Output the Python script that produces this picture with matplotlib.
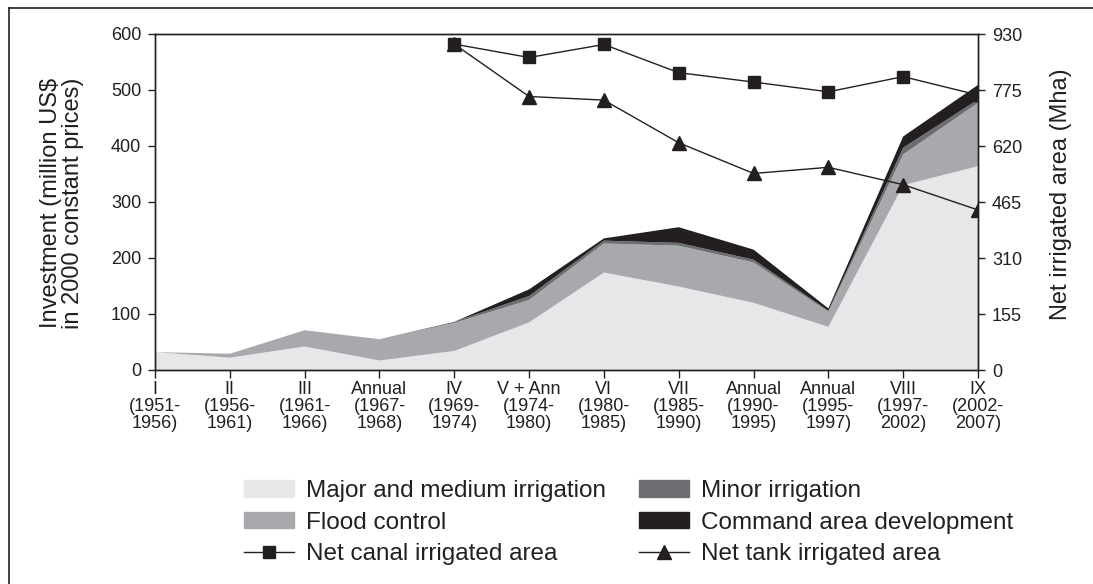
import matplotlib
matplotlib.use("Agg")
import matplotlib.pyplot as plt
from matplotlib.patches import Patch
from matplotlib.lines import Line2D
import numpy as np

# five-year plans and their periods
plans = ["I", "II", "III", "Annual", "IV", "V + Ann", "VI", "VII",
         "Annual", "Annual", "VIII", "IX"]
period_start = [1951, 1956, 1961, 1967, 1969, 1974, 1980, 1985, 1990, 1995, 1997, 2002]
period_end = [1956, 1961, 1966, 1968, 1974, 1980, 1985, 1990, 1995, 1997, 2002, 2007]

# investment (million US$, 2000 constant prices), stacked
major_medium = [32, 22, 42, 17, 34, 85, 174, 149, 120, 77, 330, 364]
flood_control = [0, 7, 29, 38, 50, 40, 52, 73, 72, 27, 55, 113]
minor = [0, 0, 0, 0, 2, 7, 5, 5, 5, 2, 12, 6]
command_area = [0, 0, 0, 0, 0, 12, 4, 28, 18, 4, 20, 26]

# net irrigated area (Mha), from plan IV onwards
canal_area = [np.nan] * 4 + [902, 865, 901, 823, 797, 770, 812, 761]
tank_area = [np.nan] * 4 + [902, 757, 747, 629, 544, 561, 513, 443]

dark = "#231f20"
colors = ["#e6e7e8", "#a7a9ac", "#6d6e71", dark]

plt.rcParams["font.family"] = ["Liberation Sans", "DejaVu Sans"]
plt.rcParams["text.color"] = dark
plt.rcParams["axes.edgecolor"] = dark
plt.rcParams["xtick.color"] = dark
plt.rcParams["ytick.color"] = dark

fig = plt.figure(figsize=(10.93, 5.84), dpi=100)
ax = fig.add_axes([155 / 1093, 1 - 370 / 584, 823 / 1093, 336 / 584])

x = np.arange(len(plans))
ax.stackplot(x, major_medium, flood_control, minor, command_area,
             colors=colors, linewidth=0)
ax.set_xlim(0, len(plans) - 1)
ax.set_ylim(0, 600)
ax.set_yticks(range(0, 601, 100))
labels = [f"{p}\n({s}-\n{e})" for p, s, e in zip(plans, period_start, period_end)]
ax.set_xticks(x)
ax.set_xticklabels(labels, linespacing=1.0)
ax.tick_params(axis="x", length=6, width=1, pad=2, labelsize=13)
ax.tick_params(axis="y", length=5, width=1, pad=5, labelsize=13)
for sp in ax.spines.values():
    sp.set_linewidth(1)

ax2 = ax.twinx()
ax2.plot(x, tank_area, color=dark, lw=1, marker="^", markersize=10)
ax2.plot(x, canal_area, color=dark, lw=1, marker="s", markersize=9)
ax2.set_ylim(0, 930)
ax2.set_yticks(range(0, 931, 155))
ax2.tick_params(axis="y", length=5, width=1, pad=5, labelsize=13)
for sp in ax2.spines.values():
    sp.set_linewidth(1)

fig.text(62 / 1093, 1 - 203 / 584, "Investment (million US$\nin 2000 constant prices)",
         rotation=90, ha="center", va="center", fontsize=17, linespacing=1.05)
fig.text(1061 / 1093, 1 - 194 / 584, "Net irrigated area (Mha)",
         rotation=90, ha="center", va="center", fontsize=17)

# legend in two columns
left_handles = [Patch(color=colors[0]), Patch(color=colors[1]),
                Line2D([], [], color=dark, lw=1, marker="s", markersize=9)]
left_labels = ["Major and medium irrigation", "Flood control", "Net canal irrigated area"]
right_handles = [Patch(color=colors[2]), Patch(color=colors[3]),
                 Line2D([], [], color=dark, lw=1, marker="^", markersize=10)]
right_labels = ["Minor irrigation", "Command area development", "Net tank irrigated area"]
opts = dict(loc="upper left", frameon=False, fontsize=17.5, borderpad=0,
            handlelength=2.05, handleheight=0.66, handletextpad=0.5,
            labelspacing=0.40, borderaxespad=0)
fig.legend(left_handles, left_labels, bbox_to_anchor=(244 / 1093, 1 - 480 / 584), **opts)
fig.legend(right_handles, right_labels, bbox_to_anchor=(639 / 1093, 1 - 480 / 584), **opts)

# frame around the figure (left and top edges)
fig.add_artist(Line2D([9 / 1093, 9 / 1093], [0, 1 - 8 / 584], color=dark, lw=1.2,
                      transform=fig.transFigure))
fig.add_artist(Line2D([9 / 1093, 1], [1 - 8 / 584, 1 - 8 / 584], color=dark, lw=1.2,
                      transform=fig.transFigure))

fig.savefig("out.png", dpi=100)
